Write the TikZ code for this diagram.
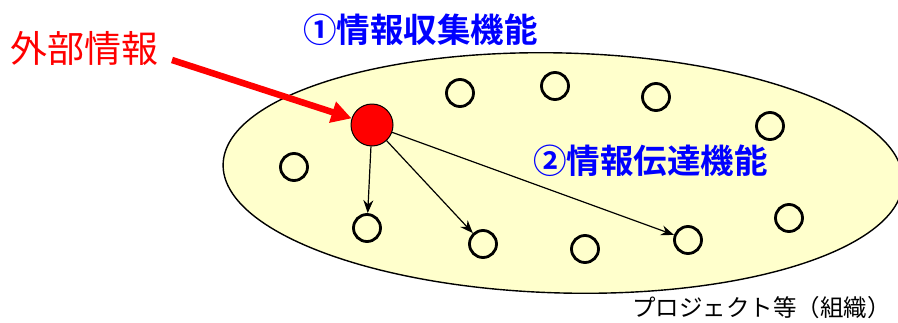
\documentclass[tikz,border=0pt]{standalone}
\usepackage{fontspec}
\newfontfamily\jp{Noto Sans CJK JP}[BoldFont={Noto Sans CJK JP Bold}]
\usetikzlibrary{arrows.meta,shapes.geometric}
\definecolor{ellfill}{RGB}{255,255,204}
\definecolor{myblue}{RGB}{0,0,255}
\definecolor{myred}{RGB}{255,0,0}
\tikzset{
  member/.style={circle, draw=black, line width=2.8pt, minimum size=27pt, inner sep=0pt, fill=ellfill},
  source/.style={circle, draw=black, line width=1pt, minimum size=42pt, inner sep=0pt, fill=myred},
  flow/.style={draw=black, line width=1.2pt, -{Stealth[length=13pt, width=10pt]}},
  inarrow/.style={draw=myred, line width=6.5pt, -{Triangle[length=20pt, width=21pt]}},
  lbl/.style={inner sep=0pt, anchor=west},
}
\begin{document}
\begin{tikzpicture}[x=1pt, y=-1pt]
\useasboundingbox (0,0) rectangle (898,322);
\node[ellipse, draw=black, line width=1.4pt, fill=ellfill, minimum width=680pt, minimum height=240pt, inner sep=0pt, rotate=-1.5] (org) at (563,173) {};
% labels
\node[lbl, text=myred, font=\jp\fontsize{37}{37}\selectfont] (ext) at (10,48) {外部情報};
\node[lbl, text=myblue, font=\jp\bfseries\fontsize{33.5}{33.5}\selectfont] (f1) at (303,30) {①情報収集機能};
\node[lbl, text=myblue, font=\jp\bfseries\fontsize{33.5}{33.5}\selectfont] (f2) at (533,161) {②情報伝達機能};
\node[lbl, text=black, font=\jp\fontsize{23.5}{23.5}\selectfont] (orgname) at (632,308) {プロジェクト等（組織）};
% members
\node[member] (m1) at (460,93) {};
\node[member] (m2) at (555,86) {};
\node[member] (m3) at (656,97) {};
\node[member] (m4) at (770,126) {};
\node[member] (m5) at (294,167) {};
\node[member] (m6) at (367,228) {};
\node[member] (m7) at (483,244) {};
\node[member] (m8) at (585,249) {};
\node[member] (m9) at (688,240) {};
\node[member] (m10) at (789,218) {};
\node[source] (src) at (372,125) {};
% connectors
\coordinate (inStart) at (172,60);
\draw[inarrow] (inStart) -- (src);
\draw[flow] (src) -- (m6);
\draw[flow] (src) -- (m7);
\draw[flow] (src) -- (m9);
\end{tikzpicture}
\end{document}
